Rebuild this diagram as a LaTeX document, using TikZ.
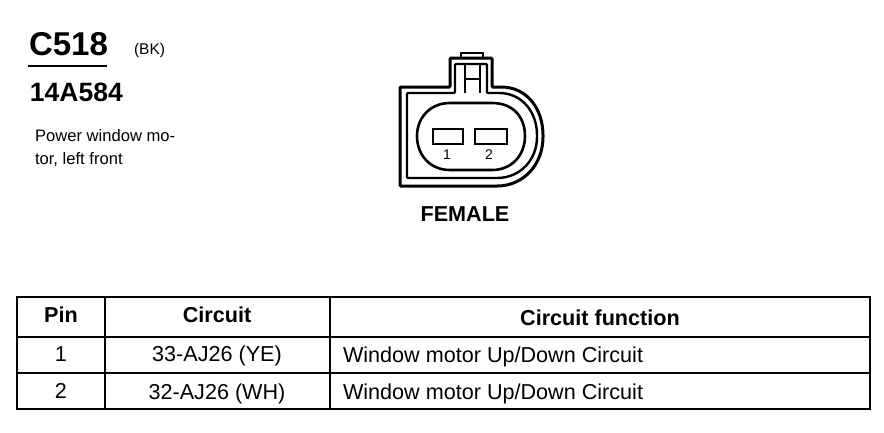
\documentclass[tikz,border=0pt]{standalone}
\usepackage{fontspec}
\setmainfont{Liberation Sans}
\usepackage{tikz}
\usetikzlibrary{positioning}

\begin{document}
\begin{tikzpicture}[
  x=1pt, y=-1pt,
  every node/.style={inner sep=0pt, outer sep=0pt},
  title/.style={font=\bfseries\fontsize{33}{33}\selectfont},
  partno/.style={font=\bfseries\fontsize{26.5}{26.5}\selectfont},
  small/.style={font=\fontsize{16.6}{23}\selectfont, align=left},
  head/.style={font=\bfseries\fontsize{21.6}{21.6}\selectfont},
  cell/.style={font=\fontsize{21.6}{21.6}\selectfont},
  pinno/.style={font=\fontsize{14}{14}\selectfont},
  heavy/.style={line width=2.4pt, black}
]
\useasboundingbox (0,0) rectangle (884,432);

% heading
\node[title, anchor=west] (conn) at (29,44) {C518};
\node[font=\fontsize{15.5}{15.5}\selectfont, anchor=west] (colour) at (134,50) {(BK)};
\node[partno, anchor=west] (part) at (30,92) {14A584};
\node[small, anchor=north west] (desc) at (35,129) {Power window mo-\\tor, left front};
\draw[heavy] (28,66) -- (107,66);

% connector housing
\draw[line width=3pt, rounded corners=1pt]
  (400,186) -- (400,87) -- (450,87) -- (450,58) -- (492,58) -- (492,87) -- (500,87)
  .. controls (528,87) and (543,110) .. (543,136)
  .. controls (543,164) and (524,186) .. (496,186) -- cycle;
\draw[line width=2.4pt, rounded corners=1pt]
  (407,178) -- (407,93) -- (455,93) -- (455,64) -- (487,64) -- (487,93) -- (498,93)
  .. controls (522,93) and (537,112) .. (537,136)
  .. controls (537,160) and (520,178) .. (496,178) -- cycle;
\draw[line width=2.4pt] (461,58) -- (461,53) -- (483,53) -- (483,58);
\draw[line width=2pt] (465,64) -- (465,93) (480,64) -- (480,93) (465,79) -- (480,79);
\draw[line width=2.6pt] (450,103) -- (492,103)
  .. controls (514,103) and (525,118) .. (525,136)
  .. controls (525,155) and (512,170) .. (492,170) -- (450,170)
  .. controls (430,170) and (417,155) .. (417,136)
  .. controls (417,118) and (430,103) .. (450,103) -- cycle;
\draw[line width=2.4pt] (433,129) rectangle (463,144);
\draw[line width=2.4pt] (475,129) rectangle (507,144);
\node[pinno] (pina) at (447,155) {1};
\node[pinno] (pinb) at (489,155) {2};
\node[font=\bfseries\fontsize{21.6}{21.6}\selectfont] (gender) at (465,214) {FEMALE};

% table
\draw[line width=2.4pt] (17,297) rectangle (870,409);
\draw[line width=2.2pt] (17,337) -- (870,337);
\draw[line width=2.2pt] (17,373) -- (870,373);
\draw[line width=2.4pt] (105,297) -- (105,409);
\draw[line width=2.4pt] (330,297) -- (330,409);

\node[head] (hpin) at (61,315) {Pin};
\node[head] (hcircuit) at (217,315) {Circuit};
\node[head] (hfunc) at (600,318) {Circuit function};
\node[cell] (pone) at (61,354) {1};
\node[cell] (cone) at (217,356) {33-AJ26 (YE)};
\node[cell, anchor=west] (fone) at (343,357) {Window motor Up/Down Circuit};
\node[cell] (ptwo) at (61,391) {2};
\node[cell] (ctwo) at (217,394) {32-AJ26 (WH)};
\node[cell, anchor=west] (ftwo) at (343,394) {Window motor Up/Down Circuit};

\end{tikzpicture}
\end{document}
